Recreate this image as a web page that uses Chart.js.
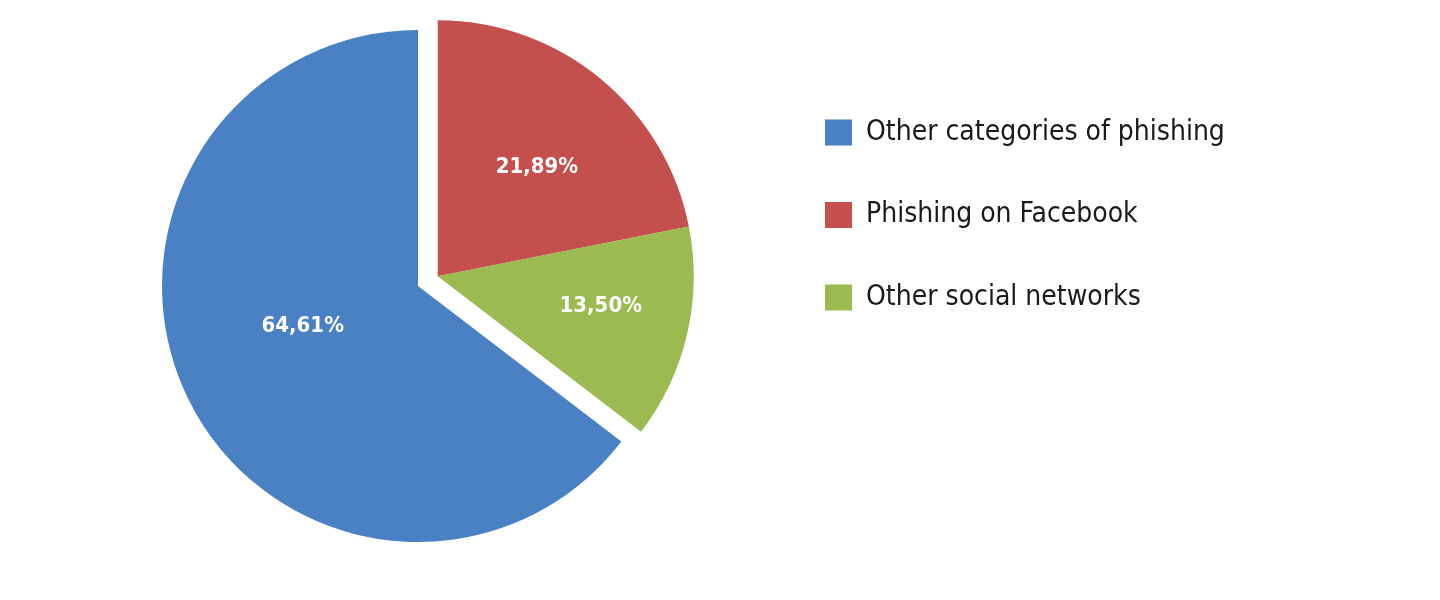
<!DOCTYPE html>
<html>
<head>
<meta charset="utf-8">
<script src="https://cdn.jsdelivr.net/npm/chart.js@4.4.1/dist/chart.umd.min.js"></script>
<style>
  html, body { margin: 0; padding: 0; background: #fff; }
  #wrap { width: 1440px; height: 600px; position: relative; }
</style>
</head>
<body>
<div id="wrap"><canvas id="pie"></canvas></div>
<script>
const categories = ["Other categories of phishing", "Phishing on Facebook", "Other social networks"];
const shares = [64.61, 21.89, 13.50];
const sliceColors = ["#4a80c4", "#c3504c", "#9bbb50"];

const fontFamily = '"Liberation Sans Narrow", "DejaVu Sans Condensed", "Open Sans", sans-serif';
const legendSize = 28;
const legendPad = 54.5;
const boxW = 27;

// the red + green wedge is pulled out as one piece
const explodeIdx = [1, 2];
const explodeDist = 22;
const labelFrac = [0.477, 0.575, 0.648];
const labelNudge = [7, 3, -2.5]; // degrees

// legend capped just under its natural width, so its box (and the pie centre) is fixed
const legendW = 460;
const legendLeft = 825 - legendPad;
const padLeft = 2 * 418 - legendLeft;

const explodePlugin = {
  id: "explode",
  afterDatasetsUpdate(chart) {
    const arcs = chart.getDatasetMeta(0).data;
    const first = arcs[explodeIdx[0]];
    const last = arcs[explodeIdx[explodeIdx.length - 1]];
    const mid = (first.startAngle + last.endAngle) / 2;
    explodeIdx.forEach(i => {
      arcs[i].x += Math.cos(mid) * explodeDist;
      arcs[i].y += Math.sin(mid) * explodeDist;
    });
  }
};

const labelPlugin = {
  id: "sliceLabels",
  afterDatasetsDraw(chart) {
    const ctx = chart.ctx;
    const arcs = chart.getDatasetMeta(0).data;
    ctx.save();
    ctx.fillStyle = "#ffffff";
    ctx.font = "bold 22px " + fontFamily;
    ctx.textAlign = "center";
    ctx.textBaseline = "middle";
    arcs.forEach((arc, i) => {
      const a = (arc.startAngle + arc.endAngle) / 2 + labelNudge[i] * Math.PI / 180;
      const r = arc.outerRadius * labelFrac[i];
      const txt = shares[i].toFixed(2).replace(".", ",") + "%";
      ctx.fillText(txt, arc.x + Math.cos(a) * r, arc.y + Math.sin(a) * r);
    });
    ctx.restore();
  }
};

new Chart(document.getElementById("pie"), {
  type: "pie",
  data: {
    labels: categories,
    datasets: [{
      data: shares,
      backgroundColor: sliceColors,
      borderWidth: 0,
      clip: false
    }]
  },
  options: {
    responsive: true,
    maintainAspectRatio: false,
    animation: false,
    events: [],
    radius: 256,
    rotation: (shares[1] + shares[2]) / 100 * 360,
    layout: {
      padding: { left: padLeft, top: 64, bottom: 92, right: 1440 - legendLeft - legendW }
    },
    plugins: {
      tooltip: { enabled: false },
      legend: {
        position: "right",
        align: "start",
        maxWidth: legendW,
        labels: {
          boxWidth: boxW,
          boxHeight: 26,
          padding: legendPad,
          color: "#1a1a1a",
          font: { family: fontFamily, size: legendSize }
        }
      }
    }
  },
  plugins: [explodePlugin, labelPlugin]
});
</script>
</body>
</html>
